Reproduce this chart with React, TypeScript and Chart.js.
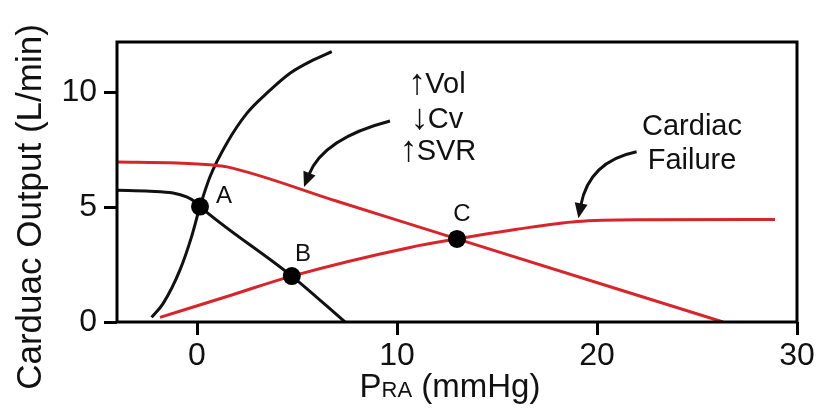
import React, { useEffect, useRef } from "react";
import { Chart, registerables } from "chart.js";

Chart.register(...registerables);

const FONT = 'Arial, "Liberation Sans", Helvetica, sans-serif';
const ARROW_FONT = 'Arial, "Liberation Sans", sans-serif';

const X_TICKS = [0, 10, 20, 30];
const Y_TICKS = [0, 5, 10];

// Normal cardiac function curve (black)
const normalCardiac = [
  [-2.27, 0.2], [-1.69, 0.81], [-0.85, 2.27], [-0.27, 3.72], [0.15, 5.03], [0.65, 6.33],
  [1.49, 7.79], [2.49, 9.09], [3.49, 9.97], [4.65, 10.84], [5.82, 11.42], [6.74, 11.78],
];
// Normal venous return curve (black)
const normalVenous = [
  [-4, 5.74], [-2.35, 5.7], [-1.2, 5.62], [-0.52, 5.45], [-0.1, 5.24], [0.15, 5.03],
  [4.74, 2.0], [7.4, 0],
];
// Shifted venous return (↑Vol ↓Cv ↑SVR), red
const shiftedVenous = [
  [-4, 6.97], [-1, 6.93], [0.8, 6.84], [1.5, 6.76], [7, 5.26], [13, 3.62], [26.3, 0],
];
// Cardiac failure curve, red
const failureCardiac = [
  [-1.85, 0.2], [1.82, 1.2], [4.74, 2.0], [10.65, 3.25], [13, 3.62], [16, 4.04],
  [19, 4.38], [22, 4.46], [28.9, 4.47],
];
// Equilibrium points
const pointNames = ["A", "B", "C"];
const pointValues = [[0.15, 5.03], [4.74, 2.0], [13.0, 3.62]];

// Text labels (data coordinates)
const pointLabelPos = [[1.35, 5.49], [5.3, 2.94], [13.25, 4.71]];
const noteArrows = ["↑", "↓", "↑"];
const noteWords = ["Vol", "Cv", "SVR"];
const notePos = [[12.0, 10.41], [12.0, 8.89], [12.05, 7.49]];
const failLines = ["Cardiac", "Failure"];
const failPos = [[24.75, 8.5], [24.75, 7.02]];
// Curved arrows: start, control, tip (data coordinates)
const arrows = [
  [[9.65, 8.76], [6.3, 8.0], [5.35, 5.88]],
  [[21.98, 7.42], [19.6, 7.0], [19.07, 4.52]],
];

const RED = "#d6262b";
const BLACK = "#111111";

const toXY = (arr: number[][]) => arr.map(([x, y]) => ({ x, y }));

const annotPlugin = {
  id: "annot",
  afterDraw(chart: any) {
    const { ctx, chartArea: ca, scales } = chart;
    const xs = scales.x;
    const ys = scales.y;
    const px = (v: number) => xs.getPixelForValue(v);
    const py = (v: number) => ys.getPixelForValue(v);
    ctx.save();
    // plot box
    ctx.strokeStyle = "#000";
    ctx.lineWidth = 3;
    ctx.strokeRect(ca.left, ca.top, ca.right - ca.left, ca.bottom - ca.top);

    ctx.fillStyle = "#111";
    ctx.textAlign = "center";
    ctx.textBaseline = "middle";

    // point labels
    ctx.font = `24px ${FONT}`;
    pointNames.forEach((n, i) => {
      ctx.fillText(n, px(pointLabelPos[i][0]), py(pointLabelPos[i][1]));
    });

    // notes with arrow glyphs
    const wordFont = `29px ${FONT}`;
    const arrowFont = `36px ${ARROW_FONT}`;
    ctx.textAlign = "left";
    ctx.textBaseline = "alphabetic";
    noteWords.forEach((w, i) => {
      ctx.font = arrowFont;
      const wa = ctx.measureText(noteArrows[i]).width;
      ctx.font = wordFont;
      const ww = ctx.measureText(w).width;
      const cx = px(notePos[i][0]);
      const cy = py(notePos[i][1]) + 10;
      const x0 = cx - (wa + ww - 1) / 2;
      ctx.font = arrowFont;
      ctx.fillText(noteArrows[i], x0, cy + 1);
      ctx.font = wordFont;
      ctx.fillText(w, x0 + wa - 1, cy);
    });
    ctx.textAlign = "center";
    ctx.textBaseline = "middle";
    ctx.font = wordFont;
    failLines.forEach((t, i) => ctx.fillText(t, px(failPos[i][0]), py(failPos[i][1])));

    // arrows
    ctx.strokeStyle = "#111";
    ctx.lineWidth = 3;
    arrows.forEach(([s, c, e]) => {
      const p0 = [px(s[0]), py(s[1])];
      const p1 = [px(c[0]), py(c[1])];
      const p2 = [px(e[0]), py(e[1])];
      let dx = p2[0] - p1[0];
      let dy = p2[1] - p1[1];
      const len = Math.hypot(dx, dy);
      dx /= len;
      dy /= len;
      const head = 15;
      const base = [p2[0] - dx * head, p2[1] - dy * head];
      ctx.beginPath();
      ctx.moveTo(p0[0], p0[1]);
      ctx.quadraticCurveTo(p1[0], p1[1], base[0] + dx * 2, base[1] + dy * 2);
      ctx.stroke();
      const hw = 6.5;
      ctx.beginPath();
      ctx.moveTo(p2[0], p2[1]);
      ctx.lineTo(base[0] - dy * hw, base[1] + dx * hw);
      ctx.lineTo(base[0] + dy * hw, base[1] - dx * hw);
      ctx.closePath();
      ctx.fill();
    });

    // y title
    ctx.save();
    ctx.translate(31, (ca.top + ca.bottom) / 2 + 25);
    ctx.rotate(-Math.PI / 2);
    ctx.font = `35px ${FONT}`;
    ctx.textAlign = "center";
    ctx.textBaseline = "middle";
    ctx.fillText("Carduac Output (L/min)", 0, 0);
    ctx.restore();

    // x title: P + small "RA" + " (mmHg)"
    const big = `33px ${FONT}`;
    const small = `22px ${FONT}`;
    ctx.textAlign = "left";
    ctx.textBaseline = "alphabetic";
    ctx.font = big;
    const wP = ctx.measureText("P").width;
    const wRest = ctx.measureText(" (mmHg)").width;
    ctx.font = small;
    const wRA = ctx.measureText("RA").width;
    const total = wP + wRA + wRest;
    const cx = 450;
    const baseY = 397;
    let xx = cx - total / 2;
    ctx.font = big;
    ctx.fillText("P", xx, baseY);
    xx += wP;
    ctx.font = small;
    ctx.fillText("RA", xx, baseY);
    xx += wRA;
    ctx.font = big;
    ctx.fillText(" (mmHg)", xx, baseY);
    ctx.restore();
  },
};

export default function App() {
  const ref = useRef<HTMLCanvasElement | null>(null);
  useEffect(() => {
    document.body.style.margin = "0";
    const canvas = ref.current;
    if (!canvas) return;
    const lineDs = (label: string, data: number[][], color: string) => ({
      type: "line" as const,
      label,
      data: toXY(data),
      borderColor: color,
      borderWidth: 3,
      pointRadius: 0,
      fill: false,
      cubicInterpolationMode: "monotone" as const,
      order: 2,
    });
    const chart = new Chart(canvas, {
      type: "line",
      data: {
        datasets: [
          lineDs("Venous return (shifted)", shiftedVenous, RED),
          lineDs("Cardiac failure", failureCardiac, RED),
          lineDs("Cardiac function", normalCardiac, BLACK),
          lineDs("Venous return", normalVenous, BLACK),
          {
            type: "scatter" as const,
            label: "Equilibria",
            data: toXY(pointValues),
            pointRadius: 9,
            pointBackgroundColor: "#000",
            pointBorderWidth: 0,
            showLine: false,
            order: 1,
          } as any,
        ],
      },
      options: {
        responsive: false,
        animation: false,
        devicePixelRatio: 1,
        layout: { padding: { top: 42, right: 22, left: 0, bottom: 0 } },
        plugins: { legend: { display: false }, tooltip: { enabled: false } },
        scales: {
          x: {
            type: "linear",
            min: -4,
            max: 30,
            afterBuildTicks: (s: any) => {
              s.ticks = X_TICKS.map((v) => ({ value: v }));
            },
            afterFit: (s: any) => {
              s.height = 90;
            },
            ticks: { color: "#111", font: { family: FONT, size: 32 }, padding: 2, maxRotation: 0 },
            grid: { drawOnChartArea: false, drawTicks: true, tickLength: 13, color: "#000", lineWidth: 3 },
            border: { display: false },
          },
          y: {
            type: "linear",
            min: 0,
            max: 12.2,
            afterBuildTicks: (s: any) => {
              s.ticks = Y_TICKS.map((v) => ({ value: v }));
            },
            afterFit: (s: any) => {
              s.width = 117;
            },
            ticks: { color: "#111", font: { family: FONT, size: 32 }, padding: 7 },
            grid: { drawOnChartArea: false, drawTicks: true, tickLength: 13, color: "#000", lineWidth: 3 },
            border: { display: false },
          },
        },
      },
      plugins: [annotPlugin],
    });
    return () => chart.destroy();
  }, []);
  return (
    <div style={{ position: "fixed", left: 0, top: 0, width: 819, height: 412, background: "#fff" }}>
      <canvas ref={ref} width={819} height={412} style={{ width: 819, height: 412, display: "block" }} />
    </div>
  );
}
